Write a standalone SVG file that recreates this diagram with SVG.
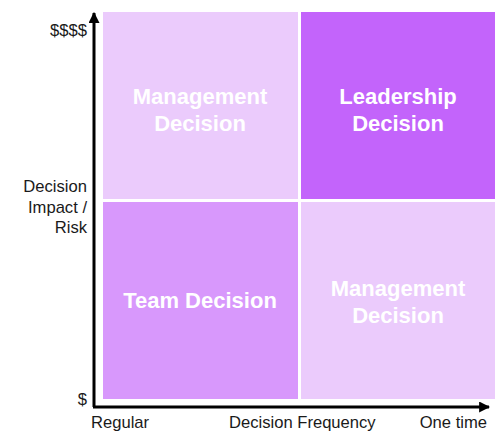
<svg xmlns="http://www.w3.org/2000/svg" width="502" height="442" viewBox="0 0 502 442">
<defs>
<style>
.q{font-family:"Liberation Sans",Arial,sans-serif;font-weight:bold;font-size:22px;fill:#ffffff;text-anchor:middle}
.ax{font-family:"Liberation Sans",Arial,sans-serif;font-size:16.6px;fill:#1a1a1a}
.r{text-anchor:end}
</style>
<marker id="ah" viewBox="0 0 10 10" refX="9" refY="5" markerWidth="11" markerHeight="11" markerUnits="userSpaceOnUse" orient="auto">
<path d="M0,0 L10,5 L0,10 z" fill="#000"/>
</marker>
</defs>
<g id="tl"><rect x="103" y="12" width="195" height="187" fill="#ebcbfc"/><text class="q" x="200" y="104">Management</text><text class="q" x="200" y="131">Decision</text></g>
<g id="tr"><rect x="301" y="12" width="194" height="187" fill="#c364fb"/><text class="q" x="398" y="104">Leadership</text><text class="q" x="398" y="131">Decision</text></g>
<g id="bl"><rect x="103" y="202" width="195" height="197" fill="#d898fc"/><text class="q" x="200" y="308">Team Decision</text></g>
<g id="br"><rect x="301" y="202" width="194" height="197" fill="#ebcbfc"/><text class="q" x="398" y="296">Management</text><text class="q" x="398" y="323">Decision</text></g>
<g id="connectors" stroke="#000" stroke-width="3" fill="none">
<path d="M94,407 L94,13" marker-end="url(#ah)"/>
<path d="M93,407 L489,407" marker-end="url(#ah)"/>
</g>
<g id="labels">
<text class="ax r" x="87" y="36">$$$$</text>
<text class="ax r" x="87" y="192">Decision</text>
<text class="ax r" x="87" y="213">Impact /</text>
<text class="ax r" x="87" y="233">Risk</text>
<text class="ax r" x="87" y="405">$</text>
<text class="ax" x="91" y="428">Regular</text>
<text class="ax" x="229" y="428">Decision Frequency</text>
<text class="ax r" x="487" y="428">One time</text>
</g>
</svg>
